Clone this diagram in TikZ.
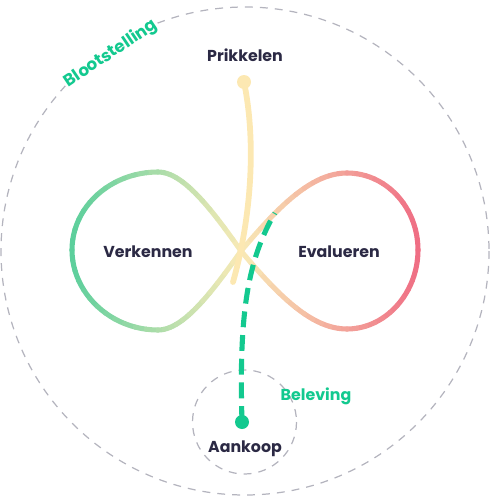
\documentclass[tikz,border=0pt]{standalone}
\usepackage{fontspec}
\setmainfont{Poppins}
\usepackage{tikz}
\usetikzlibrary{positioning}
\definecolor{inkdark}{HTML}{2B2944}
\definecolor{mint}{HTML}{13C98F}
\definecolor{ringgray}{HTML}{B4B4BE}
\definecolor{lgreen}{HTML}{5CCF9C}
\definecolor{lpale}{HTML}{F8EAB6}
\definecolor{lred}{HTML}{EF6E84}
\definecolor{ystroke}{HTML}{FCE8B2}
\tikzset{
	ring/.style={draw=ringgray, line width=0.7pt, dash pattern=on 4.5pt off 4pt},
	lobe/.style={line width=2.9pt, line cap=round},
	stage/.style={font=\bfseries\fontsize{9}{11}\selectfont, text=inkdark},
	phase/.style={font=\bfseries\fontsize{9}{11}\selectfont, text=mint},
	prikline/.style={draw=ystroke, line width=3.3pt, line cap=round},
	koopline/.style={draw=mint, line width=2.9pt, dash pattern=on 9pt off 4.5pt},
}
% one bezier piece of the loop, coloured by its x position
\newcommand\gradpiece[8]{%
	\foreach \j in {0,...,11}{
		\pgfmathsetmacro\ta{\j/12}
		\pgfmathsetmacro\tb{(\j+1)/12}
		\pgfmathsetmacro\tm{(\j+0.5)/12}
		\pgfmathsetmacro\xm{(1-\tm)^3*#1+3*(1-\tm)^2*\tm*#3+3*(1-\tm)*\tm^2*#5+\tm^3*#7}
		\ifdim\xm pt<241pt
			\pgfmathsetmacro\pp{100*(1-(241-\xm)/169)}\def\endcol{lgreen}
		\else
			\pgfmathsetmacro\pp{100*(1-(\xm-241)/177)}\def\endcol{lred}
		\fi
		\begin{scope}[lobe, color=lpale!\pp!\endcol]
			\pgfpathcurvebetweentime{\ta}{\tb}{\pgfpointxy{#1}{#2}}{\pgfpointxy{#3}{#4}}{\pgfpointxy{#5}{#6}}{\pgfpointxy{#7}{#8}}
			\pgfusepath{stroke}
		\end{scope}
	}%
}

\begin{document}
\begin{tikzpicture}[x=0.02cm, y=-0.02cm]
		\useasboundingbox (0,0) rectangle (490,497);
		% outer and inner rings
		\draw[ring] (245,251) circle (244);
		\draw[ring] (244.5,422) circle (52);
		% infinity loop, left lobe
		\gradpiece{241}{251}{207.8}{203.6}{181.5}{172}{158}{172}
		\gradpiece{158}{172}{110.5}{172}{72}{206.9}{72}{250}
		\gradpiece{72}{250}{72}{293.1}{110.5}{330}{158}{330}
		\gradpiece{158}{330}{181.5}{330}{207.8}{298.4}{241}{251}
		% right lobe
		\gradpiece{241}{251}{280.3}{204.2}{312.5}{173}{347}{173}
		\gradpiece{347}{173}{386.2}{173}{418}{207.5}{418}{250}
		\gradpiece{418}{250}{418}{292.5}{386.2}{329}{347}{329}
		\gradpiece{347}{329}{312.5}{329}{280.3}{297.8}{241}{251}
		\coordinate (topdot) at (244,82);
		\coordinate (prikend) at (233,282);
		\coordinate (botdot) at (242,422);
		\coordinate (koopend) at (275,213);
		\draw[prikline] (topdot) .. controls (256,140) and (252,215) .. (prikend);
		\fill[ystroke] (topdot) circle (7);
		\draw[koopline] (botdot) .. controls (239,320) and (246,262) .. (koopend);
		\fill[mint] (botdot) circle (7);
		% labels
		\node[stage] (prik) at (245,55) {Prikkelen};
		\node[stage] (verk) at (148,252) {Verkennen};
		\node[stage] (eval) at (339,252) {Evalueren};
		\node[stage] (aank) at (245,449) {Aankoop};
		\node[phase] (belev) at (316,396) {Beleving};
		\node[phase, font=\bfseries\fontsize{9.5}{11}\selectfont, fill=white, rotate=34, inner sep=1pt] (bloot) at (111,54) {Blootstelling};
	 \end{tikzpicture}
\end{document}
